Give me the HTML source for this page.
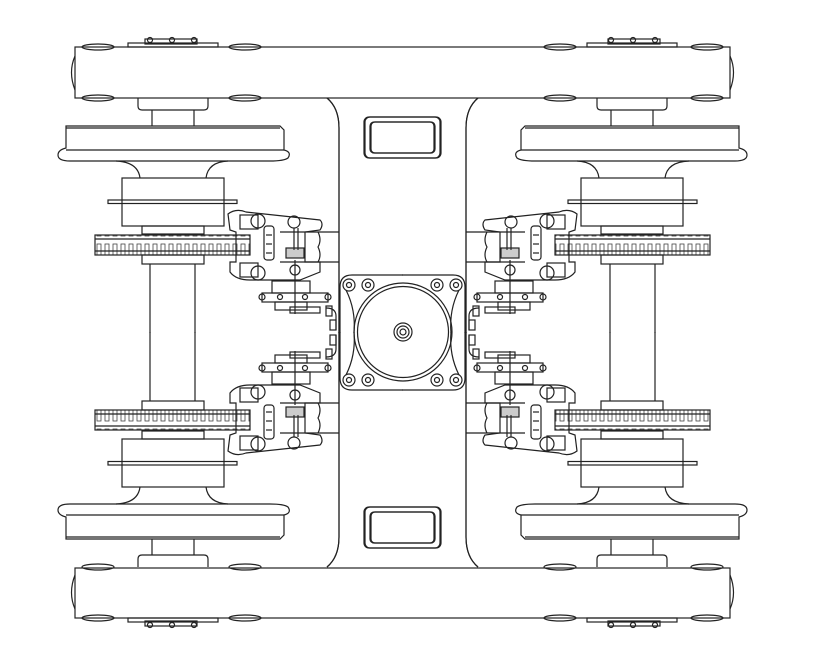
<!DOCTYPE html>
<html><head><meta charset="utf-8"><style>
html,body{margin:0;padding:0;background:#fff;width:831px;height:671px;overflow:hidden}
svg{display:block}
</style></head><body>
<svg width="831" height="671" viewBox="0 0 831 671" xmlns="http://www.w3.org/2000/svg" fill="none" stroke="#222" stroke-width="1.2">
<defs>
<pattern id="teeth" x="95" y="0" width="8" height="20" patternUnits="userSpaceOnUse">
<rect x="0" y="0" width="8" height="20" fill="#fff" stroke="none"/>
<rect x="2" y="4" width="4" height="12" fill="none" stroke="#444" stroke-width="0.8"/>
</pattern>
<g id="quad">
  <path d="M75 56 Q68 72 75 90"/>
  <ellipse cx="98" cy="47" rx="16" ry="3"/>
  <ellipse cx="98" cy="98" rx="16" ry="3"/>
  <ellipse cx="245" cy="47" rx="16" ry="3"/>
  <ellipse cx="245" cy="98" rx="16" ry="3"/>
  <rect x="128" y="43" width="90" height="4"/>
  <rect x="145" y="39" width="52" height="5"/>
  <circle cx="150" cy="40" r="2.5"/><circle cx="172" cy="40" r="2.5"/><circle cx="194" cy="40" r="2.5"/>
  <path d="M138 98 V106 Q138 110 142 110 H204 Q208 110 208 106 V98"/>
  <line x1="152" y1="110" x2="152" y2="126"/><line x1="194" y1="110" x2="194" y2="126"/>
  <path d="M66 126 H280 L284 130 V150 Q292 152 288 158 Q284 161 270 161 H70 Q58 161 58 155 Q58 150 66 148 Z"/>
  <line x1="66" y1="128" x2="280" y2="128"/>
  <line x1="66" y1="150" x2="284" y2="150"/>
  <path d="M116 161 Q138 162 140 178"/>
  <path d="M228 161 Q208 162 206 178"/>
  <rect x="122" y="178" width="102" height="48"/>
  <rect x="108" y="200" width="129" height="3.5"/>
  <rect x="142" y="226" width="62" height="8"/>
  <rect x="95" y="235" width="155" height="20" fill="url(#teeth)"/>
  <line x1="95" y1="239" x2="250" y2="239"/>
  <line x1="95" y1="251" x2="250" y2="251"/>
  <rect x="142" y="255" width="62" height="9"/>
  <line x1="150" y1="264" x2="150" y2="333"/>
  <line x1="195" y1="264" x2="195" y2="333"/>
  <path d="M327 98 Q339 108 339 128 V333"/>
  <path d="M478 98 Q466 108 466 128 V333"/>
  <rect x="365" y="117" width="76" height="41" rx="5"/>
  <rect x="371" y="122" width="64" height="31" rx="4"/>
  <path d="M280 232 H339"/>
  <path d="M280 262 H339"/>
  <path d="M318 232 Q322 240 318 247 Q322 255 318 262"/>
  <path d="M228 214 Q236 208 246 212 L320 220 Q324 224 320 230 L305 232 V262 L320 262 V272 L300 280 L250 280 Q236 280 230 272 V262 L236 262 V232 L230 230 Z"/>
  <rect x="240" y="215" width="18" height="14"/>
  <rect x="240" y="263" width="18" height="14"/>
  <circle cx="258" cy="221" r="7"/><circle cx="258" cy="273" r="7"/>
  <rect x="264" y="226" width="10" height="34" rx="3"/>
  <line x1="266" y1="235" x2="272" y2="235"/><line x1="266" y1="244" x2="272" y2="244"/><line x1="266" y1="253" x2="272" y2="253"/>
  <circle cx="294" cy="222" r="6"/>
  <line x1="294" y1="228" x2="294" y2="250"/><line x1="298" y1="228" x2="298" y2="250"/>
  <rect x="286" y="248" width="18" height="10" fill="#555" fill-opacity=".3"/>
  <circle cx="295" cy="270" r="5"/>
  <rect x="272" y="281" width="38" height="12"/>
  <rect x="262" y="293" width="66" height="9"/>
  <circle cx="262" cy="297" r="3"/><circle cx="328" cy="297" r="3"/>
  <circle cx="280" cy="297" r="2.5"/><circle cx="305" cy="297" r="2.5"/>
  <rect x="275" y="302" width="32" height="8"/>
  <rect x="290" y="307" width="30" height="6"/>
  <line x1="295" y1="260" x2="295" y2="314"/>
  <path d="M326 308 Q336 308 336 316 V330"/>
  <rect x="326" y="306" width="6" height="10"/>
  <rect x="330" y="320" width="6" height="10"/>
  <path d="M340 333 V287 Q340 275 352 275 H403"/>
  <path d="M346 290 Q356 310 354 333"/>
  <circle cx="349" cy="285" r="6"/><circle cx="349" cy="285" r="2.5"/>
  <circle cx="368" cy="285" r="6"/><circle cx="368" cy="285" r="2.5"/>
</g>
</defs>
<rect x="75" y="47" width="655" height="51"/>
<rect x="75" y="568" width="655" height="50"/>
<use href="#quad"/>
<use href="#quad" transform="translate(805,0) scale(-1,1)"/>
<use href="#quad" transform="translate(0,665) scale(1,-1)"/>
<use href="#quad" transform="translate(805,665) scale(-1,-1)"/>
<circle cx="403" cy="332" r="49"/>
<circle cx="403" cy="332" r="45.5"/>
<circle cx="403" cy="332" r="9"/>
<circle cx="403" cy="332" r="6"/>
<circle cx="403" cy="332" r="3"/>
</svg>
</body></html>
